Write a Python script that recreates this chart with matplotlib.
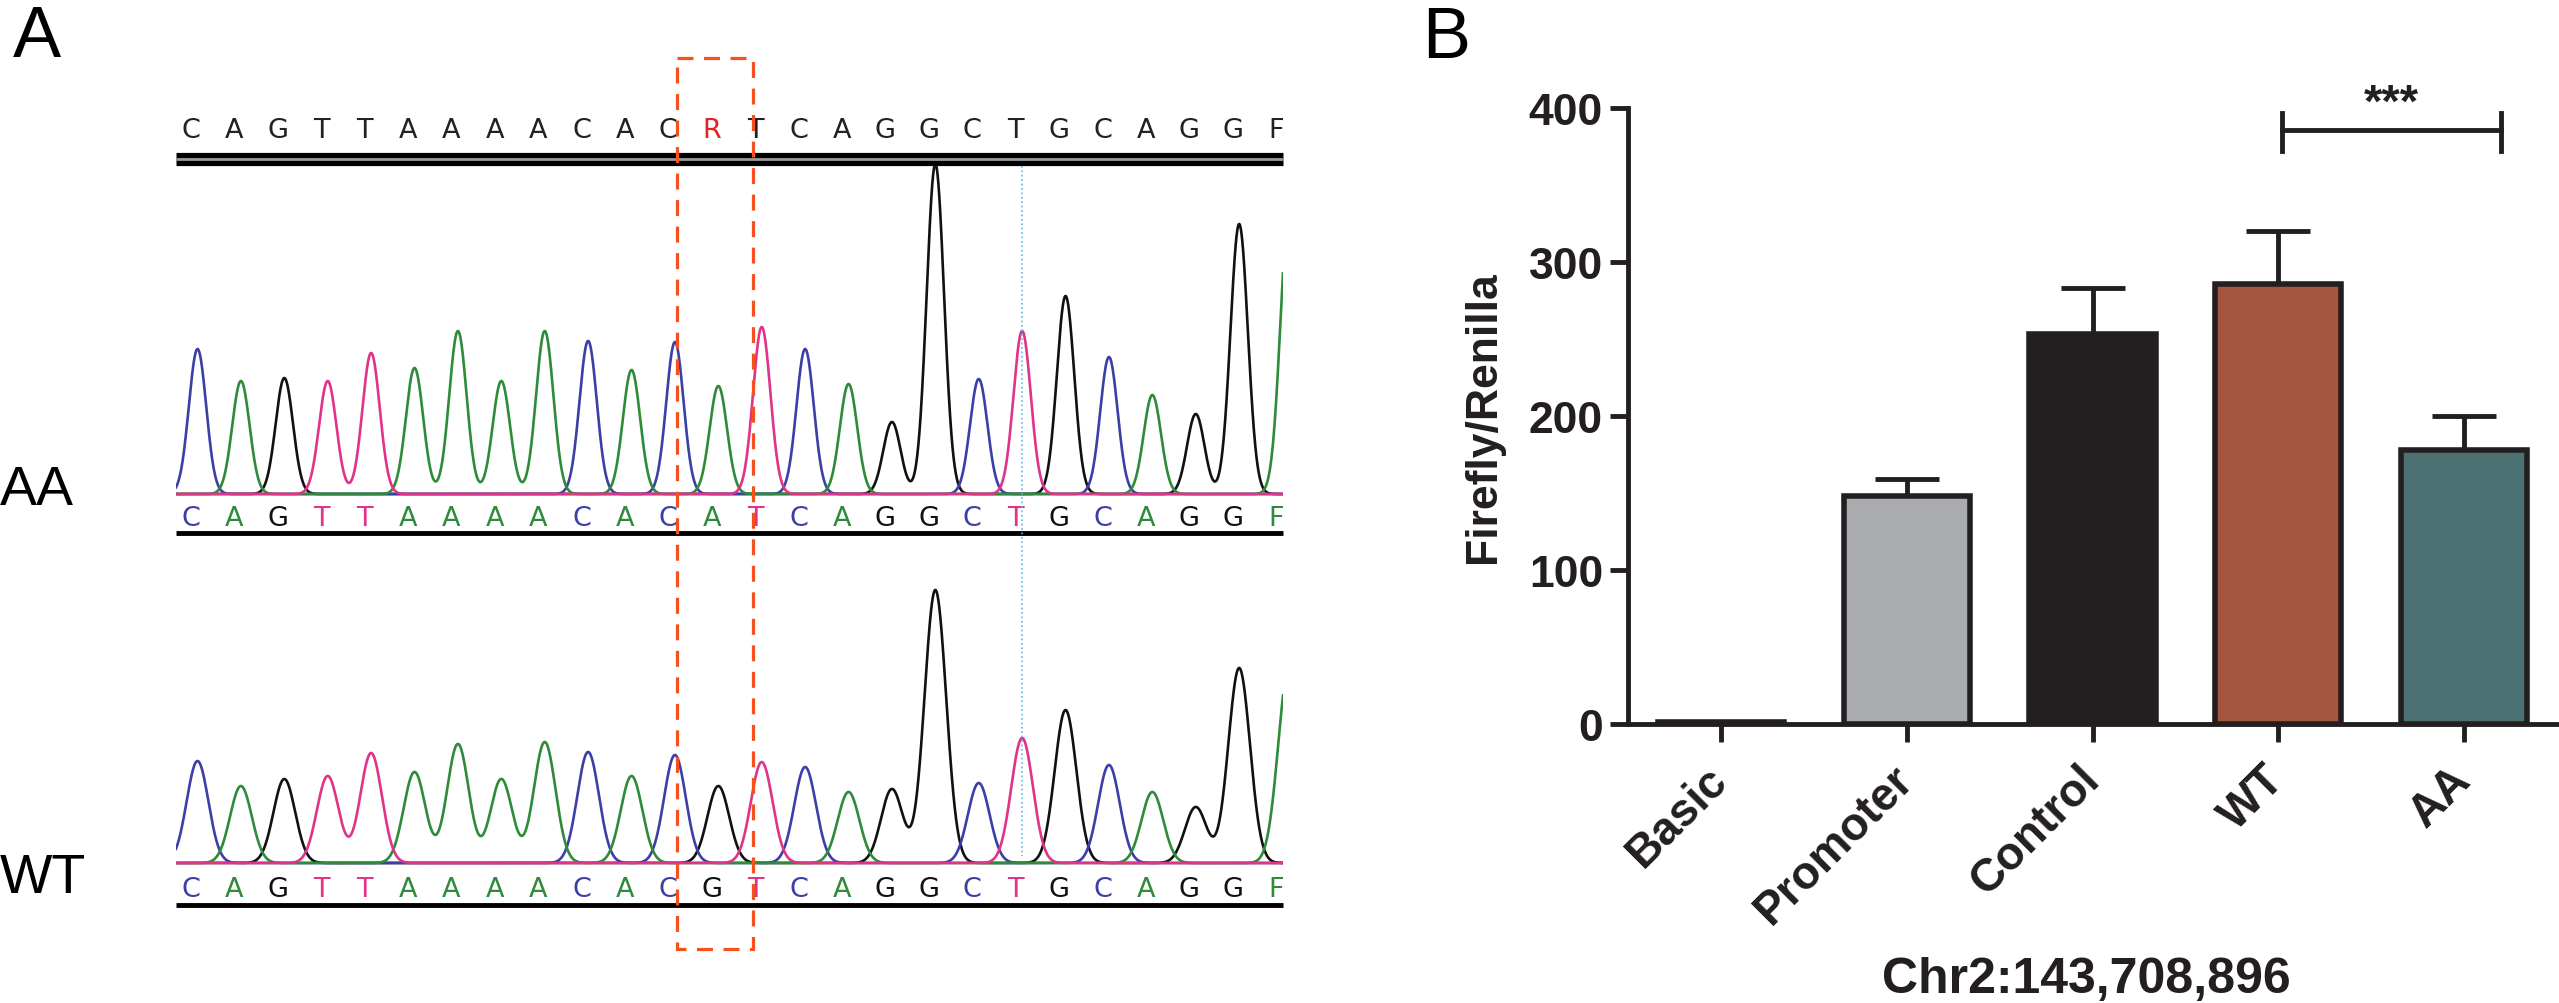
import numpy as np
import matplotlib.pyplot as plt
from matplotlib.patches import Rectangle

plt.rcParams['font.family'] = 'Liberation Sans'

W, H = 2559, 1004   # output size in px (dpi 100)

# ---------------- panel A : sequencing traces ----------------
seq_ref = "CAGTTAAAACACRTCAGGCTGCAGGF"
seq_aa = "CAGTTAAAACACATCAGGCTGCAGGF"
seq_wt = "CAGTTAAAACACGTCAGGCTGCAGGF"
# peak height under every called base (trace units)
peaks_aa = [145, 113, 116, 113, 141, 126, 163, 113, 163, 153, 124, 152, 108,
            167, 145, 110, 72, 330, 115, 163, 198, 137, 99, 80, 270, 282]
peaks_wt = [102, 77, 84, 87, 110, 91, 119, 84, 121, 111, 87, 108, 77,
            101, 96, 71, 74, 273, 80, 125, 153, 98, 71, 56, 195, 196]
last_peak_pos = 25.3      # last peak sits past the right edge
dye = {'A': '#2E8B3A', 'C': '#3B3FA6', 'G': '#111111', 'T': '#E0338A', 'F': '#2E8B3A'}

# ---------------- panel B : luciferase ----------------
groups = ['Basic', 'Promoter', 'Control', 'WT', 'AA']
means = [1, 148, 253, 286, 178]
sems = [0, 11, 30, 34, 22]
bar_cols = ['#E6E6E6', '#ABACB0', '#231F20', '#A6553F', '#4B7173']
dark = '#231F20'


def rect(x0, y0, x1, y1):
    # px box (top-left origin) -> figure fraction
    return [x0 / W, 1 - y1 / H, (x1 - x0) / W, (y1 - y0) / H]


fig = plt.figure(figsize=(W / 100, H / 100), dpi=100)

xmin, xmax = -0.346, 25.16
xs = np.linspace(xmin, xmax, 4000)


def trace(ax, seq, heights, sig):
    pos = np.arange(len(seq)) + 0.15
    pos[-1] = last_peak_pos
    for base in ['G', 'C', 'A', 'T']:
        y = np.zeros_like(xs)
        for i, b in enumerate(seq):
            called = 'A' if b in 'FR' else b
            if called == base:
                y += heights[i] * np.exp(-0.5 * ((xs - pos[i]) / sig) ** 2)
        ax.plot(xs, y, color=dye[base], lw=1.9)


def letters(ax, seq, ybase, cols=True, size=19.5):
    for i, b in enumerate(seq):
        if cols:
            c = dye[b]
        else:
            c = '#E82020' if b == 'R' else '#222222'
        ax.text(i, ybase, b, color=c, ha='center', va='baseline',
                family='DejaVu Sans', fontsize=size, clip_on=False)


# AA trace (1 unit = 1 px)
axAA = fig.add_axes(rect(176, 166, 1283, 540))
axAA.set_xlim(xmin, xmax)
axAA.set_ylim(-45, 329)
axAA.axis('off')
trace(axAA, seq_aa, peaks_aa, 0.2)
letters(axAA, seq_aa, -31)
letters(axAA, seq_ref, 357, cols=False)
axAA.plot([xmin, xmax], [-39, -39], color='black', lw=3.5, clip_on=False,
          solid_capstyle='butt')
axAA.plot([xmin, xmax], [335.5, 335.5], color='black', lw=9.5, clip_on=False,
          solid_capstyle='butt')
axAA.plot([xmin, xmax], [335.5, 335.5], color='#9A9A9A', lw=2, clip_on=False,
          solid_capstyle='butt')

# WT trace
axWT = fig.add_axes(rect(176, 560, 1283, 910))
axWT.set_xlim(xmin, xmax)
axWT.set_ylim(-46, 304)
axWT.axis('off')
trace(axWT, seq_wt, peaks_wt, 0.25)
letters(axWT, seq_wt, -33)
axWT.plot([xmin, xmax], [-42, -42], color='black', lw=3.5, clip_on=False,
          solid_capstyle='butt')

# overlay: SNP box and cursor line
axO = fig.add_axes(rect(176, 0, 1283, 1004))
axO.set_xlim(xmin, xmax)
axO.set_ylim(1004, 0)
axO.axis('off')
axO.add_patch(Rectangle((11.2, 59), 1.75, 891, fill=False, ec='#F4511E',
                        lw=2.3, ls=(0, (5, 3.3))))
axO.plot([19.15, 19.15], [167, 857], color='#5DB8E8', lw=1.2, ls=':')

fig.text(13 / W, 1 - 57 / H, 'A', fontsize=52, va='baseline')
fig.text(0 / W, 1 - 505 / H, 'AA', fontsize=40, va='baseline')
fig.text(0 / W, 1 - 893 / H, 'WT', fontsize=40, va='baseline')
fig.text(1422 / W, 1 - 58 / H, 'B', fontsize=52, va='baseline')

# ---------------- panel B ----------------
axB = fig.add_axes(rect(1628, 109, 2557, 725))
x = np.arange(len(groups))
axB.bar(x, means, width=0.68, color=bar_cols, edgecolor=dark, linewidth=4,
        zorder=3)
m = np.array(sems) > 0
axB.errorbar(x[m], np.array(means)[m], yerr=[np.zeros(m.sum()), np.array(sems)[m]],
             fmt='none', ecolor=dark, elinewidth=3.5, capsize=23, capthick=3.5,
             zorder=2)
axB.set_xlim(-0.5, 4.5)
axB.set_ylim(0, 400)
axB.set_yticks([0, 100, 200, 300, 400])
axB.set_xticks(x)
axB.set_xticklabels(groups, rotation=45, ha='right', va='center',
                    rotation_mode='anchor')
for s in ['top', 'right']:
    axB.spines[s].set_visible(False)
for s in ['left', 'bottom']:
    axB.spines[s].set_linewidth(3.5)
    axB.spines[s].set_color(dark)
axB.tick_params(axis='both', length=13, width=3.5, color=dark, labelsize=32,
                labelcolor=dark)
axB.tick_params(axis='x', pad=22, labelsize=33)
axB.tick_params(axis='y', pad=5)
for t in axB.get_xticklabels() + axB.get_yticklabels():
    t.set_fontweight('bold')
axB.set_ylabel('Firefly/Renilla', fontsize=32, fontweight='bold', color=dark)
axB.yaxis.set_label_coords(-0.134, 0.5)

# significance bracket WT vs AA
axB.plot([3.02, 4.2], [386, 386], color=dark, lw=3.5, clip_on=False)
axB.plot([3.02, 3.02], [372, 397], color=dark, lw=3.5, clip_on=False)
axB.plot([4.2, 4.2], [372, 397], color=dark, lw=3.5, clip_on=False)
axB.text(3.61, 395, '***', ha='center', va='baseline', fontsize=34,
         fontweight='bold', color=dark, clip_on=False)

fig.text(2086 / W, 1 - 993 / H, 'Chr2:143,708,896', ha='center', va='baseline',
         fontsize=36, fontweight='bold', color=dark)

fig.savefig('out.png', dpi=100)
